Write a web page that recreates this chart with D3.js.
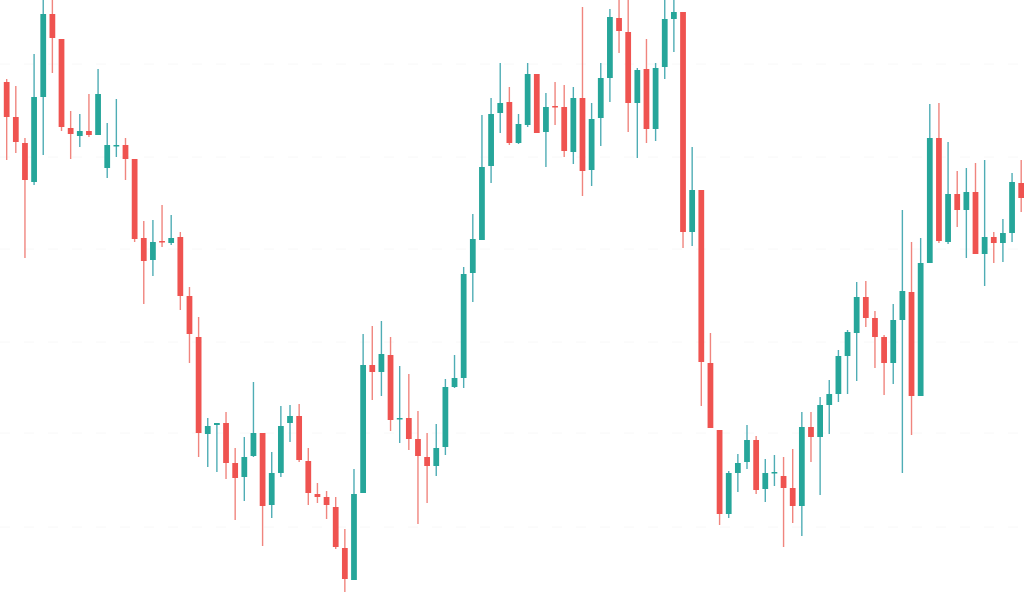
<!DOCTYPE html>
<html>
<head>
<meta charset="utf-8">
<script src="https://cdn.jsdelivr.net/npm/d3@7/dist/d3.min.js"></script>
<style>
  html, body { margin: 0; padding: 0; background: #ffffff; }
  svg { display: block; }
</style>
</head>
<body>
<svg id="chart" width="1024" height="592"></svg>
<script>
// OHLC values (arbitrary price units)
const opens  = [518,483,457,418,503,586,561,472,464,469,465,432,454,455,441,362,340,359,357,363,
                304,263,166,175,177,137,123,144,167,95,127,177,184,139,106,103,93,52,20,107,
                235,228,245,181,182,161,143,134,153,213,222,327,360,434,487,498,457,475,526,468,
                494,493,448,502,430,482,522,582,568,497,531,471,533,581,588,368,410,237,170,86,
                127,138,160,111,127,124,112,94,173,163,195,206,244,267,303,282,263,237,280,308,
                204,337,462,358,406,390,408,346,363,357,367,417];
const highs  = [521,514,462,546,600,600,561,489,486,506,531,477,501,462,441,379,380,395,385,368,
                313,283,182,177,188,152,163,218,167,148,194,195,196,152,117,109,103,71,131,266,
                274,279,263,234,226,189,167,176,221,245,333,386,485,502,537,513,486,537,526,507,
                518,515,513,593,497,537,591,600,600,532,561,537,600,600,588,453,410,267,170,129,
                146,175,164,141,145,143,151,188,188,203,220,250,270,318,319,289,265,296,390,358,
                362,496,497,458,429,432,437,440,368,381,427,440];
const lows   = [440,447,342,415,445,527,469,441,453,463,465,422,443,420,358,296,324,353,355,290,
                237,143,133,128,121,80,99,143,54,82,123,158,138,95,97,81,51,8,20,107,
                200,204,169,157,150,76,97,124,145,212,212,298,360,417,467,455,456,473,467,433,
                475,443,436,404,414,454,498,547,468,442,457,459,521,548,352,354,194,172,75,82,
                108,131,106,98,114,53,77,64,138,105,166,198,206,219,273,232,205,216,127,165,
                204,337,357,356,373,342,346,314,337,338,358,388];
const closes = [483,458,420,503,586,562,473,466,469,465,506,455,455,441,361,339,358,358,362,304,
                266,167,174,177,137,122,143,167,94,127,174,184,140,107,103,95,53,21,106,235,
                228,246,180,182,161,144,134,152,213,222,326,361,433,486,497,457,476,526,467,493,
                493,449,502,429,481,522,583,569,497,530,471,532,581,588,368,410,238,172,86,127,
                137,160,110,127,128,112,94,173,163,195,206,244,268,303,282,263,237,280,309,204,
                337,462,359,406,390,408,346,363,357,367,418,402];
// faint horizontal guide levels
const gridLevels = [536, 443, 351, 258, 167, 73];

const W = 1024, H = 592;
const n = opens.length;
const idx = d3.range(n);
const candles = idx.map(i => ({i, o: opens[i], h: highs[i], l: lows[i], c: closes[i]}));

const step = 9.17;
const x = d3.scaleBand()
  .domain(idx)
  .range([5 - step / 2, 5 + (n - 1) * step + step / 2])
  .padding(0.37);

const y = d3.scaleLinear().domain([8, 600]).range([592, 0]);

const svg = d3.select('#chart');

const UP = '#26a69a', DOWN = '#ef5350';
const UP_WICK = '#4fadb5', DOWN_WICK = '#f0857e';

// faint grid lines
svg.append('g').selectAll('line')
  .data(gridLevels)
  .join('line')
  .attr('x1', 0).attr('x2', W)
  .attr('y1', d => y(d)).attr('y2', d => y(d))
  .attr('stroke', '#f8f8f8')
  .attr('stroke-width', 1)
  .attr('stroke-dasharray', '10 14');

const g = svg.append('g');

// wicks
g.selectAll('line.wick')
  .data(candles)
  .join('line')
  .attr('class', 'wick')
  .attr('x1', d => x(d.i) + x.bandwidth() / 2)
  .attr('x2', d => x(d.i) + x.bandwidth() / 2)
  .attr('y1', d => y(d.h))
  .attr('y2', d => y(d.l))
  .attr('stroke', d => d.c >= d.o ? UP_WICK : DOWN_WICK)
  .attr('stroke-width', 1.4);

// bodies
g.selectAll('rect.body')
  .data(candles)
  .join('rect')
  .attr('class', 'body')
  .attr('x', d => x(d.i))
  .attr('width', x.bandwidth())
  .attr('y', d => y(Math.max(d.o, d.c)))
  .attr('height', d => Math.max(1.5, Math.abs(y(d.o) - y(d.c))))
  .attr('fill', d => d.c >= d.o ? UP : DOWN);
</script>
</body>
</html>
